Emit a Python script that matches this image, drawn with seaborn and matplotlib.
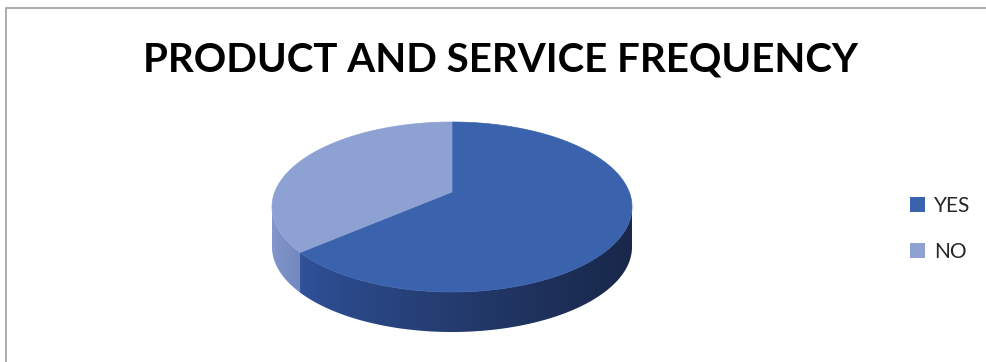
import numpy as np
import matplotlib
matplotlib.use("Agg")
import matplotlib.pyplot as plt
from matplotlib.patches import Patch, Rectangle, Polygon
from matplotlib.colors import LinearSegmentedColormap
import seaborn as sns

# Survey answers
categories = ["YES", "NO"]
shares = [66, 34]
title = "PRODUCT AND SERVICE FREQUENCY"

top_colors = ["#3b62ad", "#8ea1d3"]
side_light = ["#30529a", "#8597cc"]
side_dark = ["#19284a", "#7288c0"]

sns.set_theme(style="white")
plt.rcParams["font.family"] = ["Lato", "DejaVu Sans"]

W, H = 987, 362
fig = plt.figure(figsize=(W / 100, H / 100), dpi=100)
fig.patch.set_facecolor("white")

# Axes in pie units: 1 unit = 180 px, origin at the centre of the top ellipse
scale = 180.0
cx_px, cy_px = 452.0, 207.0
ax = fig.add_axes([0, 0, 1, 1])
xlim = ((0 - cx_px) / scale, (W - cx_px) / scale)
ylim = ((cy_px - H) / scale, cy_px / scale)
ax.axis("off")

ry = 85 / scale          # vertical radius of the tilted disc
depth = 40 / scale       # thickness of the disc
apex = (0.0, 15 / scale)  # perspective centre where slices meet


def rim(theta):
    return np.cos(theta), ry * np.sin(theta)


# slice angles: start at 12 o'clock, go clockwise
fracs = np.array(shares, dtype=float) / np.sum(shares)
bounds = np.pi / 2 - 2 * np.pi * np.concatenate([[0], np.cumsum(fracs)])

# side walls (front half of the rim), shaded left-to-right
for i in range(len(categories)):
    a0, a1 = bounds[i + 1], bounds[i]
    ts = np.linspace(a0, a1, 800)
    tsm = np.mod(ts, 2 * np.pi)
    ts = ts[(tsm >= np.pi) & (tsm <= 2 * np.pi)]
    if len(ts) < 2:
        continue
    xs, ys = rim(ts)
    verts = np.vstack([np.column_stack([xs, ys]),
                       np.column_stack([xs[::-1], ys[::-1] - depth])])
    poly = Polygon(verts, closed=True, fc="none", ec="none", zorder=2)
    ax.add_patch(poly)
    cmap = LinearSegmentedColormap.from_list(
        f"side{i}", [side_light[i], side_dark[i]])
    x0, x1 = xs.min(), xs.max()
    grad = np.linspace(0, 1, 256)[None, :] ** 0.8
    img = ax.imshow(grad, cmap=cmap, aspect="auto", interpolation="bilinear",
                    extent=(x0, x1, ys.min() - depth - 0.01, ys.max() + 0.01),
                    zorder=2)
    img.set_clip_path(poly)

# top surfaces
for i in range(len(categories)):
    a1, a0 = bounds[i], bounds[i + 1]
    ts = np.linspace(a1, a0, 400)
    xs, ys = rim(ts)
    px = np.concatenate([[apex[0]], xs, [apex[0]]])
    py = np.concatenate([[apex[1]], ys, [apex[1]]])
    ax.fill(px, py, color=top_colors[i], lw=0.5, ec=top_colors[i], zorder=3)

ax.set_xlim(*xlim)
ax.set_ylim(*ylim)

# title
fig.text(501 / W, 1 - 60 / H, title, ha="center", va="center",
         fontsize=29, fontweight="bold", color="black")

# legend
handles = [Patch(facecolor=top_colors[i], edgecolor="none", label=categories[i])
           for i in range(len(categories))]
fig.legend(handles=handles, loc="center left",
           bbox_to_anchor=(900 / W, 1 - 229 / H), frameon=False,
           fontsize=15, handlelength=0.7, handleheight=0.7,
           handletextpad=0.45, labelspacing=1.25, borderpad=0)

# chart border
fig.add_artist(Rectangle((6 / W, -0.1), 1.2, 1 - 8 / H + 0.1,
                         transform=fig.transFigure, fill=False,
                         ec="#a6a6a6", lw=1.3))

fig.savefig("out.png", dpi=100, facecolor="white")
